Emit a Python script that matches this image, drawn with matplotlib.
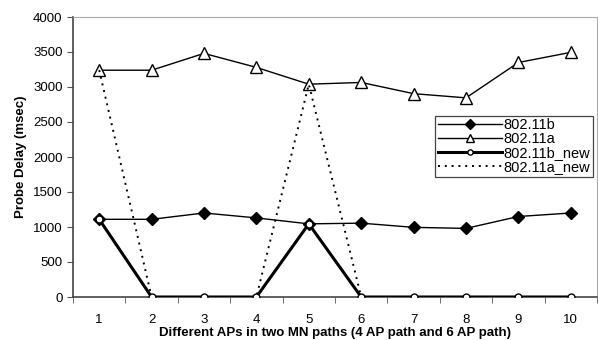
import matplotlib.pyplot as plt

plt.rcParams['font.family'] = ['Liberation Sans', 'DejaVu Sans']

aps = [1, 2, 3, 4, 5, 6, 7, 8, 9, 10]
b_delay = [1110, 1110, 1200, 1130, 1045, 1055, 995, 980, 1150, 1200]
a_delay = [3240, 3240, 3480, 3280, 3040, 3065, 2905, 2845, 3350, 3495]
b_new_delay = [1110, 0, 0, 0, 1045, 0, 0, 0, 0, 0]
a_new_delay = [3240, 0, 0, 0, 3040, 0, 0, 0, 0, 0]

fig = plt.figure(figsize=(5.98, 3.4), dpi=100)
ax = fig.add_axes([73 / 598, 43 / 340, 524 / 598, 280 / 340])

ax.plot(aps, b_delay, color='black', lw=1.0, marker='D', ms=6.5,
        mfc='black', mec='black', label='802.11b')
ax.plot(aps, a_delay, color='black', lw=1.0, marker='^', ms=8.5,
        mfc='white', mec='black', mew=1.0, label='802.11a')
ax.plot(aps, b_new_delay, color='black', lw=2.2, marker='o', ms=5,
        mfc='white', mec='black', mew=1.0, label='802.11b_new', zorder=3)
ax.plot(aps, a_new_delay, color='black', lw=1.4, ls=(0, (1, 2.5)),
        label='802.11a_new', zorder=2)

ax.set_xlim(0.5, 10.5)
ax.set_ylim(0, 4000)
ax.set_yticks(range(0, 4001, 500))
ax.set_xticks(aps)
ax.set_xticks([k + 0.5 for k in range(0, 11)], minor=True)
ax.tick_params(axis='x', which='major', length=0, labelsize=9.5, pad=12)
ax.tick_params(axis='x', which='minor', length=4, direction='out', color='#555555')
ax.tick_params(axis='y', length=4, direction='out', labelsize=9.5, color='#555555')

for side in ['top', 'right']:
    ax.spines[side].set_color('#aaaaaa')
for side in ['left', 'bottom']:
    ax.spines[side].set_color('#444444')
    ax.spines[side].set_linewidth(1.2)

ax.set_ylabel('Probe Delay (msec)', fontsize=9.5, fontweight='bold', labelpad=4)
ax.set_xlabel('Different APs in two MN paths (4 AP path and 6 AP path)',
              fontsize=9.5, fontweight='bold', labelpad=1)

leg = ax.legend(loc='upper right', bbox_to_anchor=(0.992, 0.648), fontsize=10.5,
                handlelength=4.4, handletextpad=0.1, borderpad=0.2,
                labelspacing=0.0, fancybox=False, framealpha=1,
                markerscale=0.75, edgecolor='#444444', borderaxespad=0)
leg.get_frame().set_linewidth(0.9)

fig.savefig('out.png', dpi=100)
